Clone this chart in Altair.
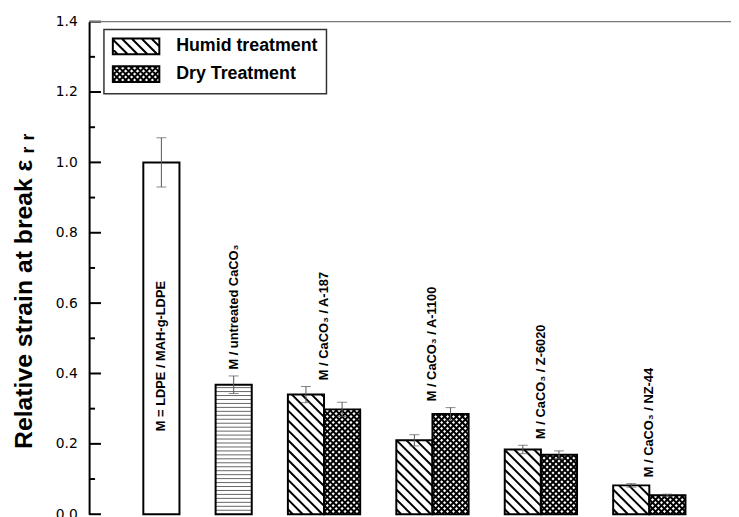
import altair as alt
import pandas as pd
import numpy as np

# ---------------- data ----------------
categories = ["M = LDPE / MAH-g-LDPE", "M / untreated CaCO\u2083", "M / CaCO\u2083 / A-187",
              "M / CaCO\u2083 / A-1100", "M / CaCO\u2083 / Z-6020", "M / CaCO\u2083 / NZ-44"]
treatments = ["Humid treatment", "Dry Treatment"]
single_values = [1.0, 0.368]
single_errors = [0.07, 0.025]
humid_values = [0.340, 0.210, 0.184, 0.082]
humid_errors = [0.023, 0.016, 0.012, 0.005]
dry_values = [0.298, 0.285, 0.169, 0.054]
dry_errors = [0.020, 0.018, 0.011, 0.003]
y_major = [0.0, 0.2, 0.4, 0.6, 0.8, 1.0, 1.2, 1.4]
y_minor = [0.1, 0.3, 0.5, 0.7, 0.9, 1.1, 1.3]

# ---------------- layout ----------------
W_PLOT, H_PLOT = 649, 498
X_DOM = [-2.0, 15.76]
Y_DOM = [0.0, 1.4]
SX = W_PLOT / (X_DOM[1] - X_DOM[0])
SY = H_PLOT / (Y_DOM[1] - Y_DOM[0])
LABEL_GAP = 0.018
INSIDE_LABEL_Y = 0.236

# ---------------- build tables ----------------
rows = []
rows.append(dict(cat=categories[0], kind="plain", pos=0, value=single_values[0], err=single_errors[0]))
rows.append(dict(cat=categories[1], kind="lines", pos=2, value=single_values[1], err=single_errors[1]))
for k in range(4):
    rows.append(dict(cat=categories[k + 2], kind="humid", pos=4 + 3 * k, value=humid_values[k], err=humid_errors[k]))
    rows.append(dict(cat=categories[k + 2], kind="dry", pos=5 + 3 * k, value=dry_values[k], err=dry_errors[k]))
bars = pd.DataFrame(rows)
bars["x0"] = bars["pos"] - 0.5
bars["x1"] = bars["pos"] + 0.5
bars["zero"] = 0.0
bars["lo"] = bars["value"] - bars["err"]
bars["hi"] = bars["value"] + bars["err"]


def hatch(x_left, x_right, top, spacing, direction):
    w = (x_right - x_left) * SX
    h = top * SY
    segs = []
    if direction == "back":  # Y = c - X  (top-left to bottom-right)
        for c in np.arange(spacing / 2, w + h, spacing):
            xs, xe = max(0, c - h), min(w, c)
            if xe - xs > 0.05:
                segs.append((x_left + xs / SX, (c - xs) / SY, x_left + xe / SX, (c - xe) / SY))
    elif direction == "fwd":  # Y = X + c
        for c in np.arange(-w + spacing / 2, h, spacing):
            xs, xe = max(0, -c), min(w, h - c)
            if xe - xs > 0.05:
                segs.append((x_left + xs / SX, (xs + c) / SY, x_left + xe / SX, (xe + c) / SY))
    else:  # horizontal
        for yy in np.arange(spacing, h, spacing):
            segs.append((x_left, yy / SY, x_right, yy / SY))
    return segs


hrows = []
for _, b in bars.iterrows():
    if b.kind == "humid":
        for s in hatch(b.x0, b.x1, b.value, 10.0, "back"):
            hrows.append(dict(xa=s[0], ya=s[1], xb=s[2], yb=s[3], sw=2.0, col="black"))
    elif b.kind == "dry":
        for d in ("back", "fwd"):
            for s in hatch(b.x0, b.x1, b.value, 6.0, d):
                hrows.append(dict(xa=s[0], ya=s[1], xb=s[2], yb=s[3], sw=2.0, col="black"))
    elif b.kind == "lines":
        for s in hatch(b.x0, b.x1, b.value, 4.0, "horiz"):
            hrows.append(dict(xa=s[0], ya=s[1], xb=s[2], yb=s[3], sw=1.0, col="#666666"))
hatch_df = pd.DataFrame(hrows)

labels = []
for i, cat in enumerate(categories):
    sub = bars[bars.cat == cat]
    lx = sub["pos"].mean()
    ly = INSIDE_LABEL_Y if i == 0 else sub["hi"].max() + LABEL_GAP
    labels.append(dict(cat=cat, lx=lx, ly=ly))
labels_df = pd.DataFrame(labels)

legend_df = bars[bars.kind.isin(["humid", "dry"])].head(2).copy()
legend_df["treatment"] = treatments


def sym_path(s, dirs):
    x0, x1, y0, y1 = -1.0, 4.875, -1.0, 1.0
    W, H = x1 - x0, y1 - y0
    parts = [f"M{x0},{y0}H{x1}V{y1}H{x0}Z"]
    for d in dirs:
        if d == "back":
            for c in np.arange(-H + s / 2, W, s):
                xs, xe = max(0, c), min(W, H + c)
                if xe - xs > 0.01:
                    parts.append(f"M{x0 + xs:.3f},{y0 + xs - c:.3f}L{x0 + xe:.3f},{y0 + xe - c:.3f}")
        else:
            for c in np.arange(s / 2, W + H, s):
                xs, xe = max(0, c - H), min(W, c)
                if xe - xs > 0.01:
                    parts.append(f"M{x0 + xs:.3f},{y0 + c - xs:.3f}L{x0 + xe:.3f},{y0 + c - xe:.3f}")
    return "".join(parts)


path_humid = sym_path(1.25, ["back"])
path_dry = sym_path(0.75, ["back", "fwd"])

# ---------------- chart ----------------
xs = alt.Scale(domain=X_DOM, nice=False, zero=False)
ys = alt.Scale(domain=Y_DOM, nice=False, zero=False)
FONT = "Liberation Sans"
yaxis = alt.Axis(values=y_major, format=".1f", title="Relative strain at break \u03b5 \u1d63 \u1d63",
                 titleFont=FONT, titleFontSize=25, titleFontWeight="bold", titleColor="black",
                 titleAngle=270, titleAlign="center", titleBaseline="middle", titleX=-66, titleY=272,
                 labelFont="DejaVu Sans", labelFontSize=14, labelColor="black", labelPadding=12,
                 ticks=False, tickSize=0, grid=False, domainColor="black", domainWidth=2)


def X(f):
    return alt.X(f, scale=xs, axis=None)


def Y(f):
    return alt.Y(f, scale=ys, axis=yaxis)


base_fill = alt.Chart(bars).mark_rect(fill="white", strokeWidth=0).encode(
    x=X("x0:Q"), x2="x1", y=Y("zero:Q"), y2="value")

hatch_layer = alt.Chart(hatch_df).mark_rule(strokeCap="butt").encode(
    x=X("xa:Q"), x2="xb", y=Y("ya:Q"), y2="yb",
    strokeWidth=alt.StrokeWidth("sw:Q", scale=None),
    color=alt.Color("col:N", scale=None))

outline = alt.Chart(bars).mark_rect(fillOpacity=0, stroke="black", strokeWidth=2).encode(
    x=X("x0:Q"), x2="x1", y=Y("zero:Q"), y2="value")

err_rule = alt.Chart(bars).mark_rule(color="#555555", strokeWidth=1).encode(
    x=X("pos:Q"), y=Y("lo:Q"), y2="hi")
err_hi = alt.Chart(bars).mark_tick(orient="horizontal", size=10, thickness=1, color="#555555").encode(
    x=X("pos:Q"), y=Y("hi:Q"))
err_lo = alt.Chart(bars).mark_tick(orient="horizontal", size=10, thickness=1, color="#555555").encode(
    x=X("pos:Q"), y=Y("lo:Q"))

text_layer = alt.Chart(labels_df).mark_text(angle=270, align="left", baseline="middle", font=FONT,
                                            fontSize=13, fontWeight="bold", color="black").encode(
    x=X("lx:Q"), y=Y("ly:Q"), text="cat:N")

major_df = pd.DataFrame({"v": y_major})
minor_df = pd.DataFrame({"v": y_minor})
major_ticks = alt.Chart(major_df).mark_rule(color="black", strokeWidth=2).encode(
    y=Y("v:Q"), x=alt.value(0), x2=alt.value(12))
minor_ticks = alt.Chart(minor_df).mark_rule(color="black", strokeWidth=2).encode(
    y=Y("v:Q"), x=alt.value(0), x2=alt.value(6))

top_df = pd.DataFrame({"v": [Y_DOM[1]]})
top_line = alt.Chart(top_df).mark_rule(color="#777777", strokeWidth=1.3).encode(
    y=Y("v:Q"), x=alt.value(0), x2=alt.value(W_PLOT))

legend_layer = alt.Chart(legend_df).mark_point(filled=False, color="black", opacity=0).encode(
    x=X("pos:Q"), y=Y("value:Q"),
    shape=alt.Shape("treatment:N", scale=alt.Scale(domain=treatments, range=[path_humid, path_dry]),
                    legend=alt.Legend(title=None, orient="none", legendX=15, legendY=8,
                                      labelFont=FONT, labelFontSize=18, labelFontWeight="bold",
                                      labelColor="black", labelOffset=47, symbolSize=256,
                                      symbolStrokeWidth=2, symbolOpacity=1, symbolStrokeColor="black",
                                      symbolFillColor="transparent", padding=8, rowPadding=4,
                                      fillColor="white", strokeColor="#333333")))

chart = alt.layer(base_fill, hatch_layer, outline, err_rule, err_hi, err_lo, text_layer,
                  major_ticks, minor_ticks, top_line, legend_layer).properties(
    width=W_PLOT, height=H_PLOT,
    autosize=alt.AutoSizeParams(type="none"),
    padding={"left": 82, "top": 11, "right": 0, "bottom": 0},
).configure_view(stroke="transparent").configure_legend(strokeWidth=1.5)

chart.save("out.html", embed_options={"renderer": "svg", "actions": False})
